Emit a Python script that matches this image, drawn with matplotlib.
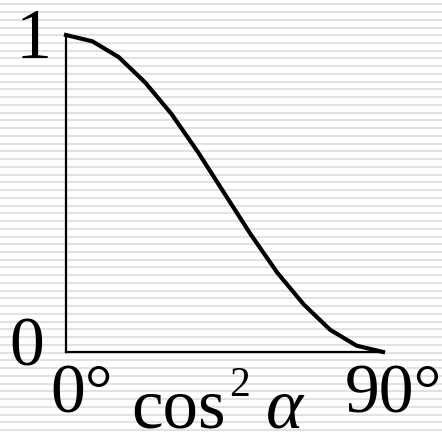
import numpy as np
import matplotlib.pyplot as plt

# data (angle in degrees, intensity)
angles = [0, 7.5, 15, 22.5, 30, 37.5, 45, 52.5, 60, 67.5, 75, 82.5, 90]
values = [1.0, 0.98, 0.93, 0.85, 0.75, 0.63, 0.50, 0.37, 0.25, 0.15, 0.07, 0.02, 0.0]

W, H = 442, 435
fig = plt.figure(figsize=(W / 100, H / 100), dpi=100)
fig.patch.set_facecolor('white')

# striped background
bg = fig.add_axes([0, 0, 1, 1], zorder=0)
bg.set_xlim(0, W)
bg.set_ylim(H, 0)
bg.axis('off')
for y in np.arange(5.3, H, 7.74):
    bg.axhline(y, color='#e2e2e2', lw=1.5)

# main axes
x0, y0, x1, y1 = 66, 353, 383, 36
ax = fig.add_axes([x0 / W, (H - y0) / H, (x1 - x0) / W, (y0 - y1) / H], zorder=1)
ax.patch.set_alpha(0)
ax.set_xlim(0, 90)
ax.set_ylim(0, 1)
for s in ['top', 'right']:
    ax.spines[s].set_visible(False)
for s in ['left', 'bottom']:
    ax.spines[s].set_linewidth(1.6)
    ax.spines[s].set_color('black')
ax.set_xticks([])
ax.set_yticks([])
ax.plot(angles, values, color='black', lw=3, solid_joinstyle='round', clip_on=False)

serif = 'Liberation Serif'
def t(x, y, s, size, **kw):
    fig.text(x / W, 1 - y / H, s, fontsize=size, family=serif, **kw)

t(52, 58, '1', 52, ha='right', va='baseline')
t(44, 366, '0', 50, ha='right', va='baseline')
t(50, 413, '0°', 50, ha='left', va='baseline')
t(345, 413, '90°', 50, ha='left', va='baseline')
t(131, 428, 'cos', 51, ha='left', va='baseline')
t(229, 396, '2', 30, ha='left', va='baseline')
t(266, 428, 'α', 51, ha='left', va='baseline', style='italic')

fig.savefig('out.png', dpi=100)
